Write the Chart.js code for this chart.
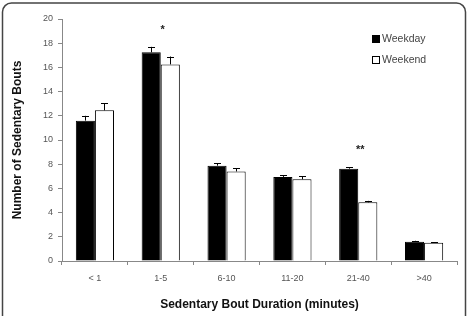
<!DOCTYPE html>
<html><head><meta charset="utf-8">
<script src="https://cdn.jsdelivr.net/npm/chart.js@4/dist/chart.umd.min.js"></script>
<style>html,body{margin:0;padding:0;background:#fff}#wrap{width:469px;height:316px}</style>
</head><body><div id="wrap"><canvas id="c" width="469" height="316"></canvas></div>
<script>
const categories = ['< 1', '1-5', '6-10', '11-20', '21-40', '>40'];
const weekday = [11.6, 17.25, 7.88, 6.95, 7.63, 1.6];
const weekdayErr = [0.4, 0.45, 0.2, 0.15, 0.12, 0.07];
const weekend = [12.45, 16.25, 7.4, 6.75, 4.85, 1.5];
const weekendErr = [0.6, 0.65, 0.25, 0.27, 0.12, 0.07];
const significance = ['', '*', '', '', '**', ''];
const yTicks = [0, 2, 4, 6, 8, 10, 12, 14, 16, 18, 20];
const errs = [weekdayErr, weekendErr];

const FONT = "'Liberation Sans', Arial, sans-serif";

const framePlugin = {
  id: 'frame',
  beforeDraw(chart) {
    const ctx = chart.ctx;
    ctx.save();
    ctx.fillStyle = '#fff';
    ctx.fillRect(0, 0, chart.width, chart.height);
    ctx.strokeStyle = '#444';
    ctx.lineWidth = 1.5;
    const x = 2.5, y = 3, w = 463, h = 330, r = 9;
    ctx.beginPath();
    ctx.moveTo(x + r, y);
    ctx.lineTo(x + w - r, y);
    ctx.arcTo(x + w, y, x + w, y + r, r);
    ctx.lineTo(x + w, y + h);
    ctx.moveTo(x, y + h);
    ctx.lineTo(x, y + r);
    ctx.arcTo(x, y, x + r, y, r);
    ctx.stroke();
    ctx.restore();
  }
};

const errorPlugin = {
  id: 'errbars',
  afterDatasetsDraw(chart) {
    const ctx = chart.ctx;
    const ys = chart.scales.y;
    ctx.save();
    ctx.strokeStyle = '#000';
    ctx.lineWidth = 1;
    let tops = [];
    chart.data.datasets.forEach((ds, di) => {
      const meta = chart.getDatasetMeta(di);
      meta.data.forEach((bar, i) => {
        const v = ds.data[i];
        const e = errs[di][i];
        const x = Math.round(bar.x) + 0.5;
        const y0 = ys.getPixelForValue(v);
        const y1 = ys.getPixelForValue(v + e);
        ctx.beginPath();
        ctx.moveTo(x, y0);
        ctx.lineTo(x, y1);
        ctx.moveTo(x - 3.5, Math.round(y1) + 0.5);
        ctx.lineTo(x + 3.5, Math.round(y1) + 0.5);
        ctx.stroke();
        tops[i] = Math.min(tops[i] ?? 1e9, y1);
      });
    });
    // significance markers
    ctx.fillStyle = '#222';
    ctx.font = 'bold 11px ' + FONT;
    ctx.textAlign = 'center';
    ctx.textBaseline = 'middle';
    const xs = chart.scales.x;
    significance.forEach((s, i) => {
      if (!s) return;
      ctx.fillText(s, xs.getPixelForValue(i) + 2, tops[i] - 17);
    });
    // legend
    ctx.font = '10.5px ' + FONT;
    ctx.textAlign = 'left';
    chart.data.datasets.forEach((ds, di) => {
      const ly = 39 + di * 21;
      ctx.fillStyle = ds.backgroundColor;
      ctx.fillRect(372.5, ly - 3.5, 7, 7);
      ctx.strokeStyle = '#000';
      ctx.strokeRect(372.5, ly - 3.5, 7, 7);
      ctx.fillStyle = '#444';
      ctx.fillText(ds.label, 382, ly);
    });
    ctx.restore();
  }
};

new Chart(document.getElementById('c'), {
  type: 'bar',
  data: {
    labels: categories,
    datasets: [
      { label: 'Weekday', data: weekday, backgroundColor: '#000', borderColor: '#000', borderWidth: 1,
        categoryPercentage: 0.58, barPercentage: 1.0 },
      { label: 'Weekend', data: weekend, backgroundColor: '#fff', borderColor: '#000', borderWidth: 1,
        categoryPercentage: 0.58, barPercentage: 1.0 }
    ]
  },
  options: {
    responsive: false,
    animation: false,
    devicePixelRatio: 1,
    layout: { padding: { left: 0, top: 19, right: 12, bottom: 0 } },
    plugins: { legend: { display: false }, tooltip: { enabled: false } },
    scales: {
      x: {
        grid: { display: true, drawOnChartArea: false, offset: true, tickLength: 4, color: '#888' },
        border: { color: '#888', width: 1 },
        ticks: { color: '#555', font: { family: FONT, size: 9 }, padding: 8 },
        title: { display: true, text: 'Sedentary Bout Duration (minutes)', color: '#111',
          font: { family: FONT, size: 12, weight: 'bold' }, padding: { top: 0, bottom: 4 } },
        afterFit(s) { s.height = 55; }
      },
      y: {
        min: 0, max: 20,
        afterBuildTicks(s) { s.ticks = yTicks.map(v => ({ value: v })); },
        grid: { display: true, drawOnChartArea: false, tickLength: 4, color: '#888' },
        border: { color: '#888', width: 1 },
        ticks: { color: '#555', font: { family: FONT, size: 9 }, padding: 5 },
        title: { display: true, text: 'Number of Sedentary Bouts', color: '#111',
          font: { family: FONT, size: 12, weight: 'bold' }, padding: { top: 10, bottom: 0 } },
        afterFit(s) { s.width = 62; }
      }
    }
  },
  plugins: [framePlugin, errorPlugin]
});
</script>
</body></html>
